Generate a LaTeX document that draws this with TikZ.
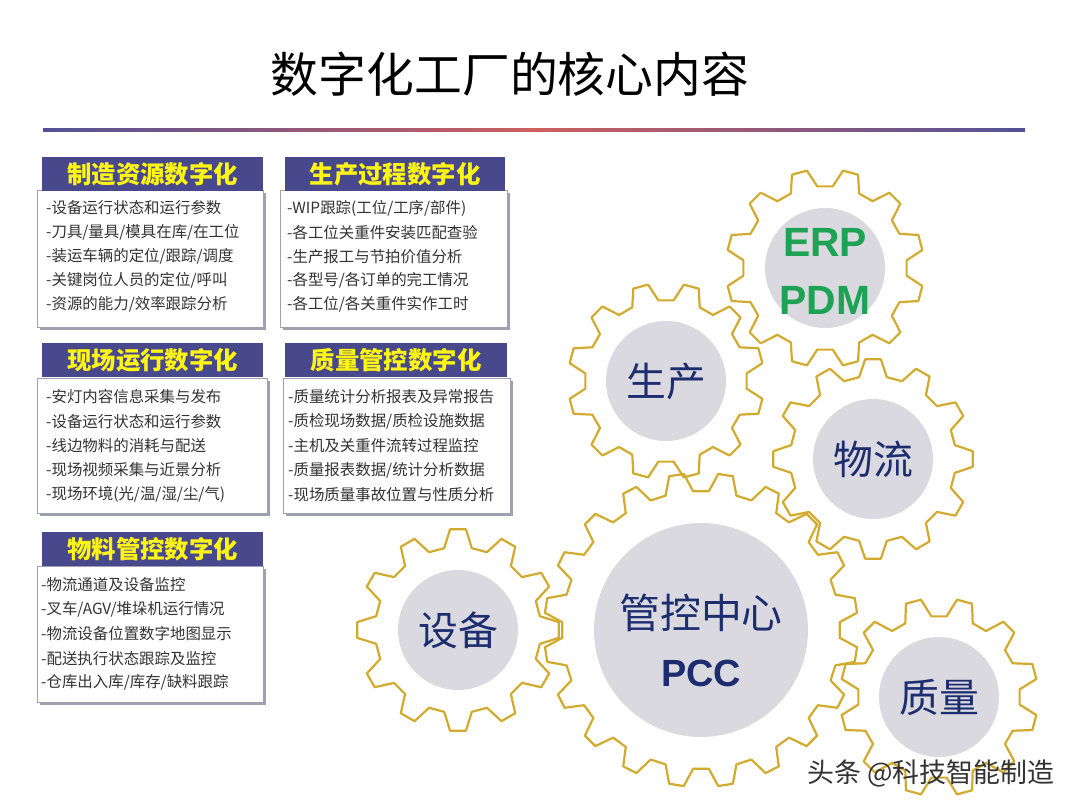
\documentclass[tikz,border=0pt]{standalone}
\usepackage{fontspec}
\setmainfont{Noto Sans CJK SC}
\newfontfamily\arial{Liberation Sans}
\usepackage{tikz}
\usetikzlibrary{calc}
\definecolor{hd}{RGB}{72,72,140}
\definecolor{hdtxt}{RGB}{255,245,20}
\definecolor{gold}{RGB}{210,170,46}
\definecolor{navy}{RGB}{28,46,112}
\definecolor{grn}{RGB}{30,162,84}
\definecolor{disc}{RGB}{217,217,223}
\definecolor{shd}{RGB}{160,160,178}
\definecolor{lnb}{RGB}{82,82,150}
\definecolor{lnr}{RGB}{205,95,95}

\begin{document}
\begin{tikzpicture}[x=1bp,y=-1bp,
 hbox/.style={fill=hd,text=hdtxt,font=\fontsize{24.5}{24.5}\selectfont\bfseries,minimum height=34bp,anchor=north west,inner sep=0},
 item/.style={anchor=west,font=\fontsize{15.5}{15.5}\selectfont,text=black!80,inner sep=0},
 gr/.style={draw=gold,line width=2.2bp,line join=round},
 dsk/.style={circle,fill=disc,inner sep=0,minimum size=120bp,text=navy,font=\fontsize{40}{40}\selectfont},
 lbl/.style={inner sep=0}]
\useasboundingbox(0,0)rectangle(1080,810);
\node[font=\fontsize{48}{48}\selectfont](title)at(510,74){数字化工厂的核心内容};
\shade[left color=lnb,right color=lnb,middle color=lnr](43,128.5)rectangle(1025,131.5);
% boxes
\fill[shd](40,193)rectangle(266,330);\draw[fill=white,draw=shd,line width=.6bp](37,190)rectangle(263,327);
\node[hbox,minimum width=221bp](h1)at(42,157){制造资源数字化};
\foreach \t[count=\i] in {-设备运行状态和运行参数,-刀具/量具/模具在库/在工位,-装运车辆的定位/跟踪/调度,-关键岗位人员的定位/呼叫,-资源的能力/效率跟踪分析}
 \node[item](a\i)at(46,{208+24.2*(\i-1)}){\t};
\fill[shd](283,193)rectangle(510,330);\draw[fill=white,draw=shd,line width=.6bp](280,190)rectangle(507,327);
\node[hbox,minimum width=220bp](h2)at(285,157){生产过程数字化};
\foreach \t[count=\i] in {-WIP跟踪(工位/工序/部件),-各工位关重件安装匹配查验,-生产报工与节拍价值分析,-各型号/各订单的完工情况,-各工位/各关重件实作工时}
 \node[item](b\i)at(287,{208+24.2*(\i-1)}){\t};
\fill[shd](40,381)rectangle(270,516);\draw[fill=white,draw=shd,line width=.6bp](37,378)rectangle(267,513);
\node[hbox,minimum width=221bp](h3)at(42,343){现场运行数字化};
\foreach \t[count=\i] in {-安灯内容信息采集与发布,-设备运行状态和运行参数,-线边物料的消耗与配送,-现场视频采集与近景分析,-现场环境(光/温/湿/尘/气)}
 \node[item](c\i)at(46,{397+24.3*(\i-1)}){\t};
\fill[shd](286,381)rectangle(513,516);\draw[fill=white,draw=shd,line width=.6bp](283,378)rectangle(510,513);
\node[hbox,minimum width=222bp](h4)at(285,343){质量管控数字化};
\foreach \t[count=\i] in {-质量统计分析报表及异常报告,-质检现场数据/质检设施数据,-主机及关重件流转过程监控,-质量报表数据/统计分析数据,-现场质量事故位置与性质分析}
 \node[item](d\i)at(288,{397+24.3*(\i-1)}){\t};
\fill[shd](40,569)rectangle(266,705);\draw[fill=white,draw=shd,line width=.6bp](37,566)rectangle(263,702);
\node[hbox,minimum width=221bp](h5)at(42,532){物料管控数字化};
\foreach \t[count=\i] in {-物流通道及设备监控,-叉车/AGV/堆垛机运行情况,-物流设备位置数字地图显示,-配送执行状态跟踪及监控,-仓库出入库/库存/缺料跟踪}
 \node[item](e\i)at(41,{585+24.4*(\i-1)}){\t};
% gears
\foreach \cx/\cy/\n/\ri/\ro/\o in {825/268/12/82/99/15,666/381/12/81/98/15,873/459/12/83/100/0,458/630/12/83/101/0,701/630/20/139/157/9,939/697/12/81/99/15}{
 \pgfmathsetmacro\p{360/\n}
 \draw[gr]([shift={(\cx,\cy)}]\o+0.32*\p:\ri)\foreach \k in {1,...,\n}{
  --([shift={(\cx,\cy)}]\o+\k*\p-0.32*\p:\ri)--([shift={(\cx,\cy)}]\o+\k*\p-0.15*\p:\ro)
  --([shift={(\cx,\cy)}]\o+\k*\p+0.15*\p:\ro)--([shift={(\cx,\cy)}]\o+\k*\p+0.32*\p:\ri)}--cycle;
}
\node[dsk](erp)at(825,268){};
\node[lbl,text=grn,font=\arial\bfseries\fontsize{41}{41}\selectfont](erp1)at(825,242){ERP};
\node[lbl,text=grn,font=\arial\bfseries\fontsize{41}{41}\selectfont](erp2)at(825,300){PDM};
\node[dsk](sc)at(666,381){生产};
\node[dsk](wl)at(873,459){物流};
\node[dsk](sb)at(458,630){设备};
\node[dsk,minimum size=214bp](pcc)at(701,630){};
\node[lbl,text=navy,font=\fontsize{41}{41}\selectfont](pcc1)at(701,613){管控中心};
\node[lbl,text=navy,font=\arial\bfseries\fontsize{38}{38}\selectfont](pcc2)at(701,673){PCC};
\node[dsk](zl)at(939,697){质量};
\node[lbl,text=black!80,font=\fontsize{27}{27}\selectfont](wm)at(931,773){头条 @科技智能制造};
\end{tikzpicture}
\end{document}
